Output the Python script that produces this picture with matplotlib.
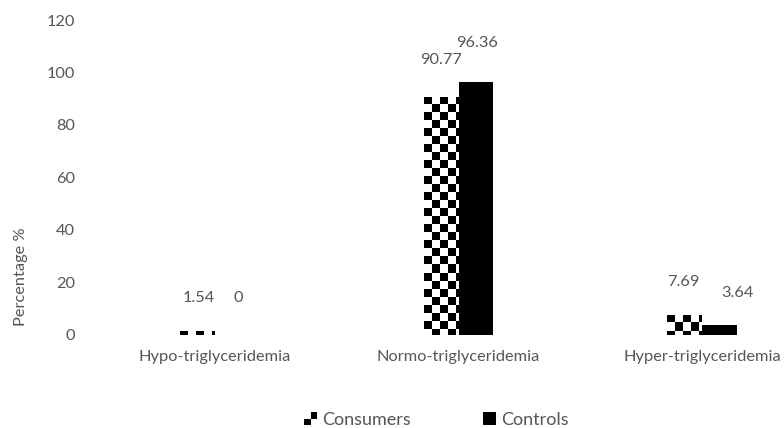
import numpy as np
import matplotlib
matplotlib.use("Agg")
import matplotlib.pyplot as plt
from matplotlib.patches import Rectangle, Patch
from matplotlib.legend_handler import HandlerBase

categories = ["Hypo-triglyceridemia", "Normo-triglyceridemia", "Hyper-triglyceridemia"]
consumers = [1.54, 90.77, 7.69]
controls = [0, 96.36, 3.64]
series_names = ["Consumers", "Controls"]
y_ticks = [0, 20, 40, 60, 80, 100, 120]

plt.rcParams['font.family'] = ['Lato', 'DejaVu Sans']
TXT = '#565656'
FS = 11.8
LEG_FS = 13

W, H, DPI = 784, 428, 100
fig = plt.figure(figsize=(W / DPI, H / DPI), dpi=DPI)
fig.patch.set_facecolor('white')

# plot area (in pixels): left 93, bottom at y=335, width 730, height 315
ax_left, ax_bottom, ax_w, ax_h = 93.25, 335, 730.5, 315
ax = fig.add_axes([ax_left / W, 1 - ax_bottom / H, ax_w / W, ax_h / H])
ax.set_facecolor('none')

x = np.arange(len(categories))
bw = 0.1437
b_cons = ax.bar(x - bw / 2, consumers, bw, color='none', edgecolor='none')
b_ctrl = ax.bar(x + bw / 2, controls, bw, color='black', edgecolor='none')

# checkerboard fill for the consumers bars
px_per_x = ax_w / 3.0
px_per_y = ax_h / 120.0
cell = 8
for rect in b_cons:
    x0 = rect.get_x()
    h = rect.get_height()
    top = h
    nc = int(np.ceil(bw * px_per_x / cell)) + 1
    nr = int(np.ceil(h * px_per_y / cell)) + 1
    board = (np.add.outer(np.arange(nr), np.arange(nc)) % 2).astype(float)
    ext = [x0, x0 + nc * cell / px_per_x, top - nr * cell / px_per_y, top]
    im = ax.imshow(board, cmap='gray', vmin=0, vmax=1, extent=ext, origin='upper',
                   aspect='auto', interpolation='nearest')
    im.set_clip_path(rect)

ax.set_xlim(-0.5, 2.5)
ax.set_ylim(0, 120)
ax.set_yticks(y_ticks)
ax.set_xticks(x)
ax.set_xticklabels(categories)
ax.tick_params(axis='both', length=0, labelsize=FS, labelcolor=TXT)
ax.tick_params(axis='y', pad=13)
ax.tick_params(axis='x', pad=11)
for s in ax.spines.values():
    s.set_visible(False)

ax.set_ylabel('Percentage %', fontsize=FS, color=TXT)
ax.yaxis.set_label_coords(-0.089, 0.184)

# value labels (offsets in pixels)
cons_off = [(1.5, 33), (0.5, 37), (-1.5, 33)]
ctrl_off = [(5.5, 37), (1.5, 39), (17.5, 32)]
for bars, vals, offs in ((b_cons, consumers, cons_off), (b_ctrl, controls, ctrl_off)):
    for rect, v, (dx, dy) in zip(bars, vals, offs):
        ax.annotate(f"{v:g}", (rect.get_x() + rect.get_width() / 2, v),
                    xytext=(dx, dy), textcoords='offset pixels',
                    ha='center', va='center', fontsize=FS, color=TXT)


class CheckerHandler(HandlerBase):
    def create_artists(self, legend, orig_handle, xdescent, ydescent, width, height,
                       fontsize, trans):
        s = min(width, height)
        x0 = -xdescent + width - s
        y0 = -ydescent
        arts = []
        for (i, j) in ((1, 1), (0, 0)):
            arts.append(Rectangle((x0 + i * s / 2, y0 + j * s / 2), s / 2, s / 2,
                                  facecolor='black', edgecolor='none', transform=trans))
        return arts


class SquareHandler(HandlerBase):
    def create_artists(self, legend, orig_handle, xdescent, ydescent, width, height,
                       fontsize, trans):
        s = min(width, height)
        return [Rectangle((-xdescent + width - s, -ydescent), s, s,
                          facecolor='black', edgecolor='none', transform=trans)]


h_cons = Patch(facecolor='none', label=series_names[0])
h_ctrl = Patch(facecolor='black', label=series_names[1])
leg = fig.legend(handles=[h_cons, h_ctrl], loc='center',
                 bbox_to_anchor=(436 / W, 1 - 420 / H), ncol=2, frameon=False,
                 fontsize=LEG_FS, handlelength=0.75, handleheight=0.75, handletextpad=0.25,
                 columnspacing=4.0,
                 handler_map={h_cons: CheckerHandler(), h_ctrl: SquareHandler()})
for t in leg.get_texts():
    t.set_color(TXT)

fig.savefig('out.png', dpi=DPI, facecolor='white')
